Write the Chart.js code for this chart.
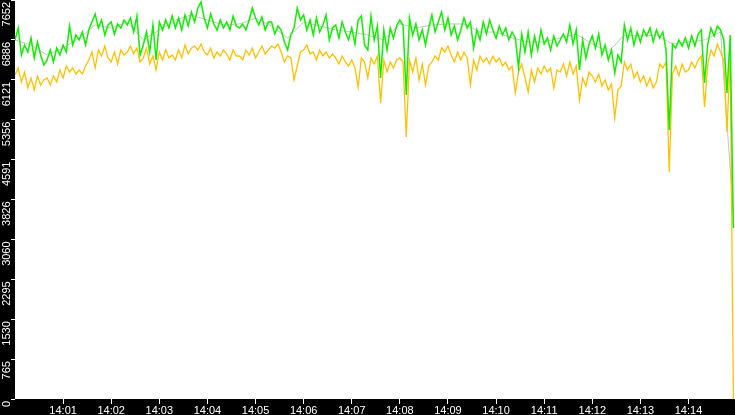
<!DOCTYPE html>
<html>
<head>
<meta charset="utf-8">
<script src="https://cdn.jsdelivr.net/npm/chart.js@4.4.1/dist/chart.umd.min.js"></script>
<style>
  html, body { margin: 0; padding: 0; background: #000; }
  #wrap { width: 735px; height: 415px; }
</style>
</head>
<body>
<div id="wrap"><canvas id="myChart" width="735" height="415"></canvas></div>
<script>
// 軸の設定値
var yMax = 7652;
var yTickLabels = ['0', '765', '1530', '2295', '3060', '3826', '4591', '5356', '6121', '6886', '7652'];
var xTickLabels = ['14:01', '14:02', '14:03', '14:04', '14:05', '14:06', '14:07',
                   '14:08', '14:09', '14:10', '14:11', '14:12', '14:13', '14:14'];
var xEnd = 898;   // 14:00 からの秒数 (右端)
var step = 4;     // サンプル間隔 (秒)
var grayStep = 20;

// 緑の系列
var greenVals = [
  6885, 7115, 6597, 6789, 6655, 6923, 6540, 6847, 6597, 6405,
  6501, 6693, 6463, 6731, 6597, 6789, 6655, 7153, 6789, 6981,
  6885, 7038, 6789, 7077, 7230, 7383, 7115, 7268, 6981, 7173,
  7230, 7000, 7192, 7115, 7268, 7173, 7307, 7038, 7345, 6597,
  6789, 7038, 6655, 7173, 6501, 7230, 7077, 7268, 7115, 7345,
  7115, 7307, 7077, 7364, 7153, 7422, 7230, 7499, 7614, 7307,
  7115, 7383, 7192, 7077, 7268, 7115, 7230, 7077, 7345, 7153,
  7115, 7192, 7077, 7268, 7499, 7307, 7173, 7326, 7077, 7230,
  7230, 7000, 7153, 7077, 6847, 6693, 6981, 7115, 7499, 7268,
  7364, 7077, 7268, 6981, 7307, 7038, 7173, 7364, 6885, 7115,
  7173, 6923, 7230, 7038, 6885, 7115, 6808, 7268, 7345, 6789,
  6693, 7345, 6885, 7153, 6156, 7077, 6693, 7115, 6923, 7153,
  7268, 7173, 5830, 7307, 6981, 7192, 6885, 7077, 6789, 7115,
  7364, 7038, 7230, 7422, 7077, 7307, 6981, 7153, 6885, 7077,
  7307, 7115, 7230, 6731, 7077, 6885, 7230, 7000, 7268, 7077,
  6923, 7153, 6981, 7115, 6885, 7038, 6923, 6348, 7000, 6655,
  7038, 6597, 6962, 6693, 7077, 6808, 6923, 6693, 6962, 6770,
  6885, 7000, 6847, 7173, 6808, 7077, 6310, 6885, 6540, 6808,
  6962, 6731, 7000, 6597, 6789, 6501, 6693, 6252, 6597, 6463,
  7173, 6885, 7115, 6789, 7038, 6847, 7077, 6962, 7115, 6847,
  7077, 6923, 7038, 6693, 5159, 6808, 6731, 6885, 6770, 6923,
  6731, 6962, 6770, 7000, 7077, 6060, 6808, 7115, 6962, 7153,
  7077, 6885, 5868, 6981, 3279
];

// オレンジの系列
var orangeVals = [
  6214, 6348, 6079, 6271, 5964, 6156, 5926, 6194, 6022, 6118,
  6156, 6022, 6194, 6079, 6310, 6156, 6386, 6271, 6348, 6233,
  6310, 6233, 6386, 6501, 6655, 6348, 6693, 6578, 6770, 6540,
  6463, 6655, 6425, 6693, 6597, 6655, 6770, 6616, 6731, 6463,
  6540, 6731, 6425, 6578, 6310, 6655, 6501, 6693, 6540, 6597,
  6501, 6693, 6540, 6789, 6616, 6731, 6770, 6693, 6808, 6655,
  6597, 6731, 6540, 6655, 6578, 6693, 6616, 6501, 6693, 6578,
  6578, 6501, 6693, 6597, 6731, 6540, 6655, 6770, 6616, 6693,
  6770, 6731, 6808, 6655, 6463, 6578, 6540, 6118, 6386, 6655,
  6693, 6789, 6616, 6655, 6501, 6693, 6578, 6655, 6540, 6616,
  6540, 6425, 6578, 6463, 6386, 6501, 6348, 5983, 6540, 6463,
  6156, 6540, 6425, 6578, 5677, 6501, 6271, 6463, 6348, 6501,
  6540, 6463, 5025, 6501, 6271, 6540, 6118, 6425, 6022, 6386,
  6463, 6578, 6501, 6731, 6655, 6770, 6597, 6463, 6655, 6501,
  6655, 6540, 6022, 6501, 6310, 6578, 6463, 6540, 6425, 6578,
  6463, 6540, 6386, 6463, 6310, 6386, 5868, 6271, 6425, 6156,
  5888, 6310, 6079, 6348, 6233, 6386, 6271, 6348, 5964, 6310,
  6271, 6425, 6194, 6463, 6233, 6386, 5734, 6156, 6003, 6271,
  6194, 6079, 6233, 6003, 6118, 5926, 6041, 5389, 5926, 6003,
  6463, 6310, 6425, 6156, 6271, 6079, 6194, 6003, 6156, 5964,
  6079, 6425, 6348, 6463, 4353, 6233, 6386, 6194, 6425, 6271,
  6310, 6463, 6348, 6501, 6578, 5600, 6425, 6693, 6578, 6808,
  6655, 6501, 5120, 6578, 0
];

// グレーの系列 (20秒毎, 最後の点のみ 896秒)
var grayVals = [
  6885, 6789, 6597, 6731, 6923, 7173, 7115, 7230, 6885, 7077,
  7268, 7364, 7268, 7173, 7192, 7307, 7153, 6923, 7230, 7153,
  7077, 7038, 6981, 6885, 7192, 7115, 7173, 7192, 7192, 7038,
  7038, 6923, 6847, 6847, 6923, 7000, 6808, 6655, 6981, 6962,
  6981, 6808, 6847, 6885, 7038, 3529
];

function toPoints(vals, dt, lastT) {
  return vals.map((v, i) => ({
    x: (i == vals.length - 1 && lastT != null) ? lastT : i * dt,
    y: v
  }));
}

// プロット領域を白で塗る
const plotBg = {
  id: 'plotBg',
  beforeDraw(chart) {
    const a = chart.chartArea;
    const ctx = chart.ctx;
    ctx.save();
    ctx.fillStyle = '#000';
    ctx.fillRect(0, 0, chart.width, chart.height);
    ctx.fillStyle = '#fff';
    ctx.fillRect(a.left, a.top, a.right - a.left, a.bottom - a.top);
    ctx.restore();
  }
};

// Y軸ラベルを縦書き(回転)で描く
const yLabels = {
  id: 'yLabels',
  afterDraw(chart) {
    const scale = chart.scales.y;
    const ctx = chart.ctx;
    ctx.save();
    ctx.fillStyle = '#fff';
    ctx.font = '11px "Liberation Sans", Arial, sans-serif';
    ctx.textAlign = 'right';
    ctx.textBaseline = 'alphabetic';
    scale.ticks.forEach((t, i) => {
      const py = scale.getPixelForValue(t.value);
      ctx.save();
      ctx.translate(10, py + 2);
      ctx.rotate(-Math.PI / 2);
      ctx.fillText(yTickLabels[i], 0, 0);
      ctx.restore();
    });
    ctx.restore();
  }
};

var ctx = document.getElementById('myChart').getContext('2d');
var myChart = new Chart(ctx, {
  type: 'line',
  data: {
    datasets: [
      {
        label: 'green',
        data: toPoints(greenVals, step, null),
        borderColor: '#11ee00',
        borderWidth: 1.5,
        order: 1
      },
      {
        label: 'orange',
        data: toPoints(orangeVals, step, null),
        borderColor: '#ffc000',
        borderWidth: 1.3,
        order: 2
      },
      {
        label: 'gray',
        data: toPoints(grayVals, grayStep, 896),
        borderColor: '#b4b4b4',
        borderWidth: 0.8,
        order: 3
      }
    ]
  },
  options: {
    responsive: false,
    animation: false,
    devicePixelRatio: 1,
    layout: { padding: 0 },
    elements: {
      point: { radius: 0 },
      line: { tension: 0, fill: false }
    },
    plugins: {
      legend: { display: false },
      tooltip: { enabled: false }
    },
    scales: {
      x: {
        type: 'linear',
        min: 0,
        max: xEnd,
        afterFit(scale) { scale.height = 16; },
        afterBuildTicks(scale) {
          scale.ticks = xTickLabels.map((l, i) => ({ value: (i + 1) * 60 }));
        },
        border: { display: false },
        grid: {
          drawOnChartArea: false,
          color: '#fff',
          tickLength: 5,
          tickWidth: 1
        },
        ticks: {
          color: '#fff',
          font: { family: '"Liberation Sans", Arial, sans-serif', size: 11 },
          padding: 0,
          maxRotation: 0,
          autoSkip: false,
          callback: (v, i) => xTickLabels[i]
        }
      },
      y: {
        min: 0,
        max: yMax,
        afterFit(scale) { scale.width = 15; },
        afterBuildTicks(scale) {
          scale.ticks = yTickLabels.map((l, i) => ({ value: yMax * i / 10 }));
        },
        border: { display: false },
        grid: {
          drawOnChartArea: false,
          color: '#fff',
          tickLength: 4,
          tickWidth: 1
        },
        ticks: { display: false }
      }
    }
  },
  plugins: [plotBg, yLabels]
});
</script>
</body>
</html>
